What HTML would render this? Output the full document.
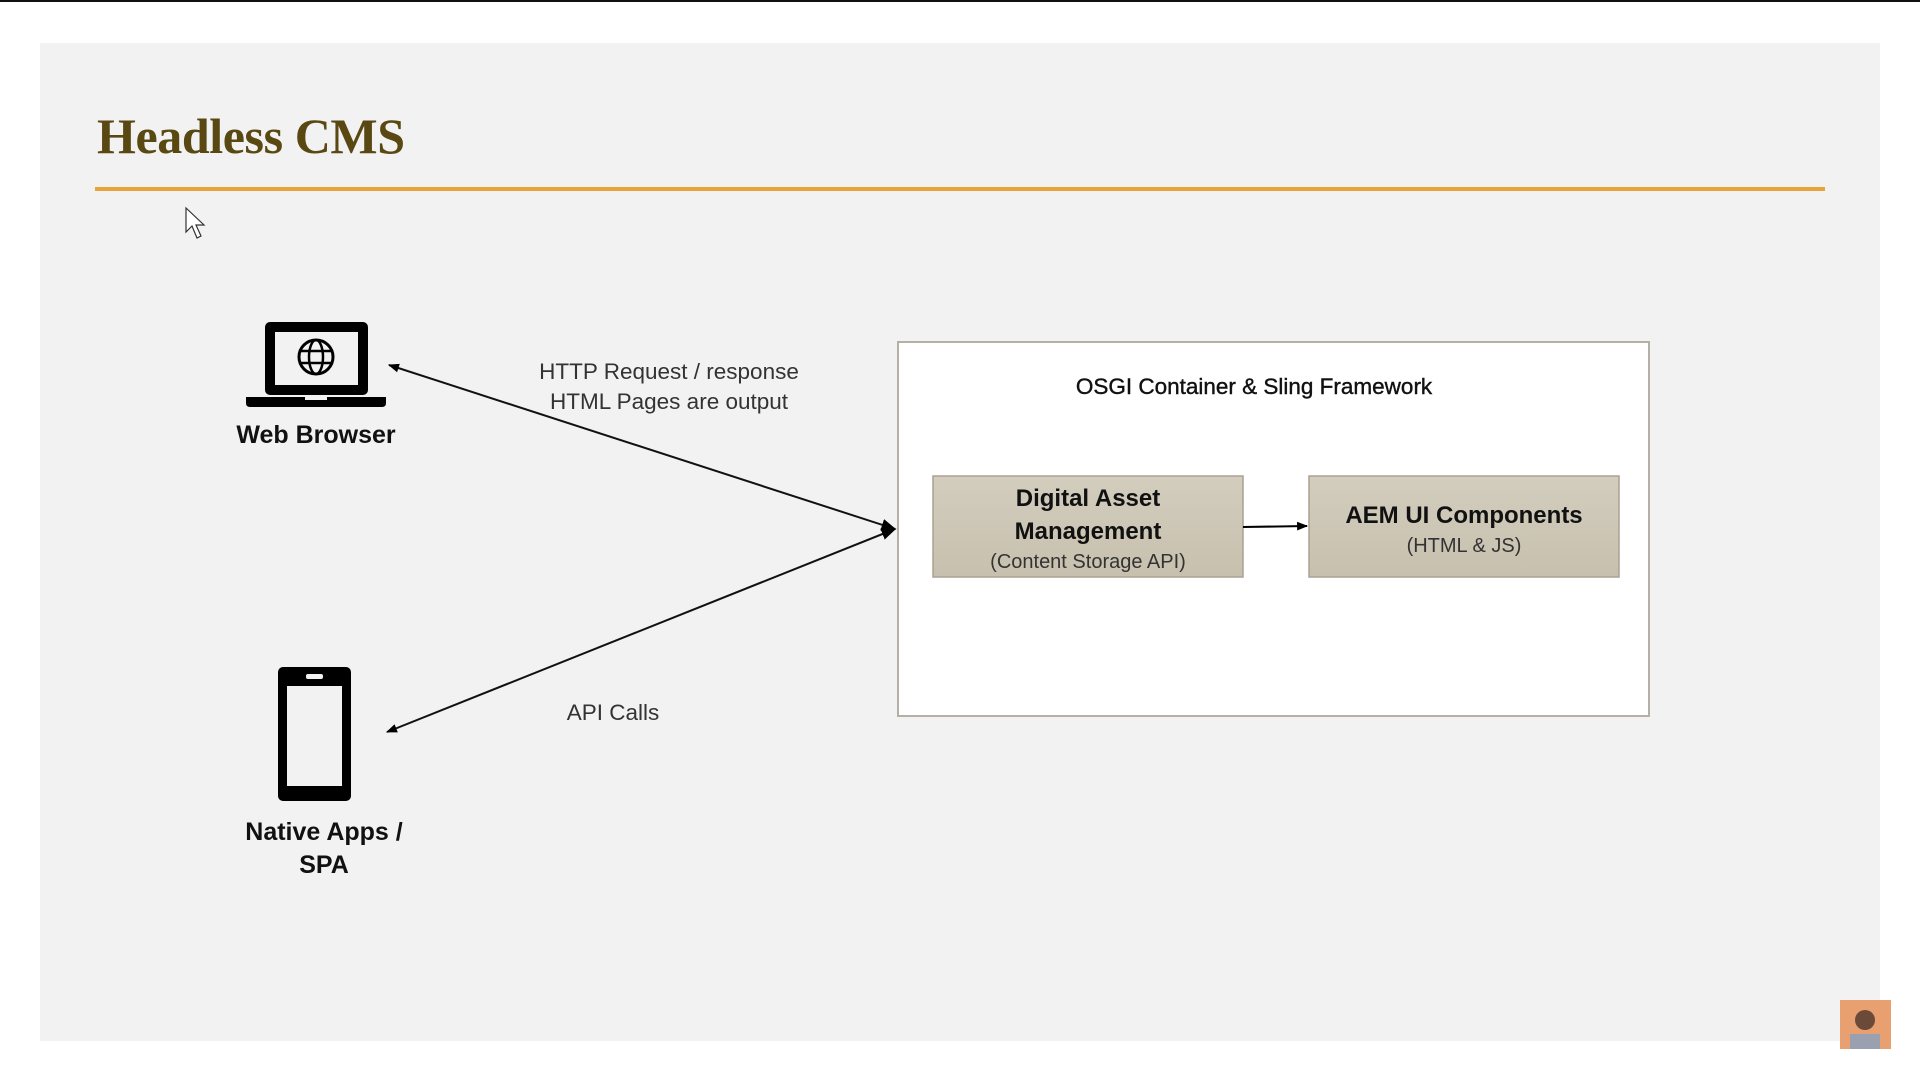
<!DOCTYPE html>
<html><head><meta charset="utf-8"><style>
html,body{margin:0;padding:0;background:#fff;width:1920px;height:1080px;overflow:hidden}
</style></head><body>
<svg width="1920" height="1080" viewBox="0 0 1920 1080" xmlns="http://www.w3.org/2000/svg" style="display:block">
<defs>
<marker id="ah" viewBox="0 0 10 10" refX="9" refY="5" markerWidth="13" markerHeight="11" orient="auto-start-reverse" markerUnits="userSpaceOnUse"><path d="M0,1 L10,5 L0,9 z" fill="#000"/></marker>
<marker id="ah2" viewBox="0 0 10 10" refX="9" refY="5" markerWidth="15" markerHeight="15" orient="auto" markerUnits="userSpaceOnUse"><path d="M0,1 L10,5 L0,9 z" fill="#000"/></marker>
<linearGradient id="g" x1="0" y1="0" x2="0" y2="1"><stop offset="0" stop-color="#d3cdbe"/><stop offset="1" stop-color="#c7c0ae"/></linearGradient>
</defs>
<rect x="0" y="0" width="1920" height="2" fill="#111"/>
<rect x="40" y="43" width="1840" height="998" fill="#f2f2f2"/>
<text x="97" y="153" font-family="Liberation Serif, serif" font-weight="bold" font-size="50" fill="#5a4812" textLength="308">Headless CMS</text>
<rect x="95" y="187" width="1730" height="4" fill="#e8a43a"/>
<path d="M186,208 L186,232 L192,226 L197,238 L201,236 L196,225 L204,225 Z" fill="#fff" stroke="#333" stroke-width="1.2"/>
<rect x="265" y="322" width="103" height="73" rx="5" fill="#000"/>
<rect x="275" y="332" width="83" height="53" fill="#f2f2f2"/>
<circle cx="316" cy="357" r="17" fill="none" stroke="#000" stroke-width="3"/>
<ellipse cx="316" cy="357" rx="7" ry="17" fill="none" stroke="#000" stroke-width="2.5"/>
<line x1="299" y1="351" x2="333" y2="351" stroke="#000" stroke-width="2.5"/>
<line x1="299" y1="363" x2="333" y2="363" stroke="#000" stroke-width="2.5"/>
<path d="M246,397 L386,397 L386,403 Q386,407 382,407 L250,407 Q246,407 246,403 Z" fill="#000"/>
<rect x="305" y="397" width="22" height="3" fill="#f2f2f2"/>
<text x="316" y="443" text-anchor="middle" font-family="Liberation Sans, sans-serif" font-weight="bold" font-size="25" fill="#111">Web Browser</text>
<rect x="278" y="667" width="73" height="134" rx="5" fill="#000"/>
<rect x="287" y="686" width="55" height="100" fill="#f2f2f2"/>
<rect x="306" y="674" width="17" height="5" rx="2" fill="#f2f2f2"/>
<text x="324" y="840" text-anchor="middle" font-family="Liberation Sans, sans-serif" font-weight="bold" font-size="25" fill="#111">Native Apps /</text>
<text x="324" y="873" text-anchor="middle" font-family="Liberation Sans, sans-serif" font-weight="bold" font-size="25" fill="#111">SPA</text>
<line x1="389" y1="365" x2="895" y2="529" stroke="#111" stroke-width="2" marker-start="url(#ah)" marker-end="url(#ah2)"/>
<line x1="387" y1="732" x2="895" y2="529" stroke="#111" stroke-width="2" marker-start="url(#ah)" marker-end="url(#ah2)"/>
<text x="669" y="379" text-anchor="middle" font-family="Liberation Sans, sans-serif" font-size="22.5" fill="#333">HTTP Request / response</text>
<text x="669" y="409" text-anchor="middle" font-family="Liberation Sans, sans-serif" font-size="22.5" fill="#333">HTML Pages are output</text>
<text x="613" y="720" text-anchor="middle" font-family="Liberation Sans, sans-serif" font-size="22.5" fill="#333">API Calls</text>
<rect x="898" y="342" width="751" height="374" fill="#fff" stroke="#b5b0a5" stroke-width="2"/>
<text x="1254" y="394" text-anchor="middle" font-family="Liberation Sans, sans-serif" font-size="22.5" fill="#111" stroke="#111" stroke-width="0.4">OSGI Container &amp; Sling Framework</text>
<rect x="933" y="476" width="310" height="101" fill="url(#g)" stroke="#a9a291" stroke-width="1.5"/>
<rect x="1309" y="476" width="310" height="101" fill="url(#g)" stroke="#a9a291" stroke-width="1.5"/>
<line x1="1243" y1="527" x2="1307" y2="526" stroke="#000" stroke-width="2" marker-end="url(#ah)"/>
<text x="1088" y="506" text-anchor="middle" font-family="Liberation Sans, sans-serif" font-weight="bold" font-size="24" fill="#111">Digital Asset</text>
<text x="1088" y="539" text-anchor="middle" font-family="Liberation Sans, sans-serif" font-weight="bold" font-size="24" fill="#111">Management</text>
<text x="1088" y="568" text-anchor="middle" font-family="Liberation Sans, sans-serif" font-size="20" fill="#333">(Content Storage API)</text>
<text x="1464" y="523" text-anchor="middle" font-family="Liberation Sans, sans-serif" font-weight="bold" font-size="24" fill="#111">AEM UI Components</text>
<text x="1464" y="552" text-anchor="middle" font-family="Liberation Sans, sans-serif" font-size="20" fill="#333">(HTML &amp; JS)</text>
<rect x="1840" y="1000" width="51" height="49" fill="#e8a070"/>
<circle cx="1865" cy="1020" r="10" fill="#6b4a3a"/>
<rect x="1850" y="1034" width="30" height="15" fill="#9aa0b0"/>
</svg>
</body></html>
